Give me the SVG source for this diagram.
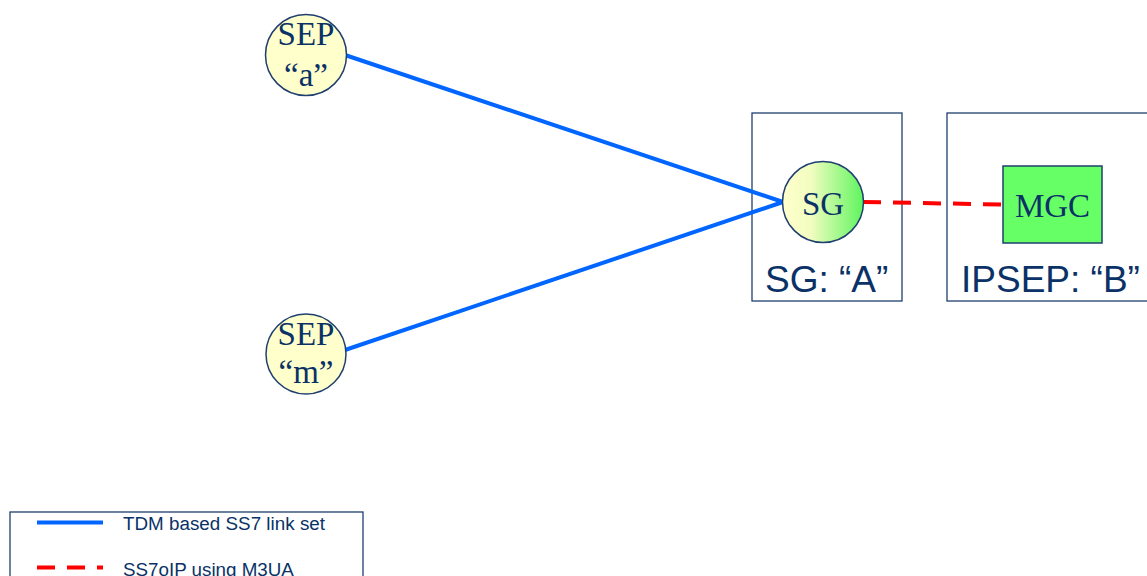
<svg xmlns="http://www.w3.org/2000/svg" width="1147" height="576" viewBox="0 0 1147 576">
<defs>
<linearGradient id="sgGrad" x1="0" y1="0" x2="1" y2="0">
<stop offset="0" stop-color="#FFFFCC"/>
<stop offset="0.35" stop-color="#F2FDC0"/>
<stop offset="1" stop-color="#5EF45E"/>
</linearGradient>
<style>
.box{fill:#FFFFFF;stroke:#1F3F6F;stroke-width:1.3}
.sep{fill:#FFFFCC;stroke:#1F3F6F;stroke-width:1.5}
.serif{font-family:"Liberation Serif","Times New Roman",serif;font-size:33px;fill:#0A3266;text-anchor:middle}
.sans{font-family:"Liberation Sans",Arial,sans-serif;fill:#0A3266}
.tdm{stroke:#0066FF;stroke-width:4;fill:none}
.ip{stroke:#FF0000;stroke-width:4;fill:none;stroke-dasharray:18 12}
</style>
</defs>
<rect width="1147" height="576" fill="#FFFFFF"/>
<g id="box-sg-a">
<rect class="box" x="752" y="113" width="150" height="188"/>
<text class="sans" x="765" y="292" font-size="37">SG: “A”</text>
</g>
<g id="box-ipsep-b">
<rect class="box" x="947" y="113" width="215" height="188"/>
<text class="sans" x="961" y="292" font-size="37">IPSEP: “B”</text>
</g>
<g id="connectors">
<line class="tdm" x1="345" y1="55" x2="783" y2="202"/>
<line class="tdm" x1="345" y1="350" x2="783" y2="202"/>
<line class="ip" x1="863" y1="202" x2="1003" y2="204.5"/>
</g>
<g id="sep-a">
<circle class="sep" cx="306" cy="55" r="40.5"/>
<text class="serif" x="306" y="45">SEP</text>
<text class="serif" x="306" y="86">“a”</text>
</g>
<g id="sep-m">
<circle class="sep" cx="306" cy="354" r="40"/>
<text class="serif" x="306" y="345">SEP</text>
<text class="serif" x="306" y="383">“m”</text>
</g>
<g id="sg">
<circle cx="823" cy="202" r="40.5" fill="url(#sgGrad)" stroke="#1F3F6F" stroke-width="1.5"/>
<text class="serif" x="823" y="215">SG</text>
</g>
<g id="mgc">
<rect x="1003" y="166" width="99" height="77" fill="#66FF66" stroke="#1F3F6F" stroke-width="1.5"/>
<text class="serif" x="1052.5" y="216.5">MGC</text>
</g>
<g id="legend">
<rect x="10" y="512" width="353" height="80" fill="#FFFFFF" stroke="#1F3F6F" stroke-width="1.3"/>
<line class="tdm" x1="37" y1="522.5" x2="103" y2="522.5" stroke-width="4.5"/>
<text class="sans" x="123" y="530" font-size="18.8" textLength="202">TDM based SS7 link set</text>
<line class="ip" x1="37" y1="567.5" x2="103" y2="567.5" stroke-width="4.5" stroke-dasharray="18 13"/>
<text class="sans" x="123" y="576" font-size="18.8">SS7oIP using M3UA</text>
</g>
</svg>
